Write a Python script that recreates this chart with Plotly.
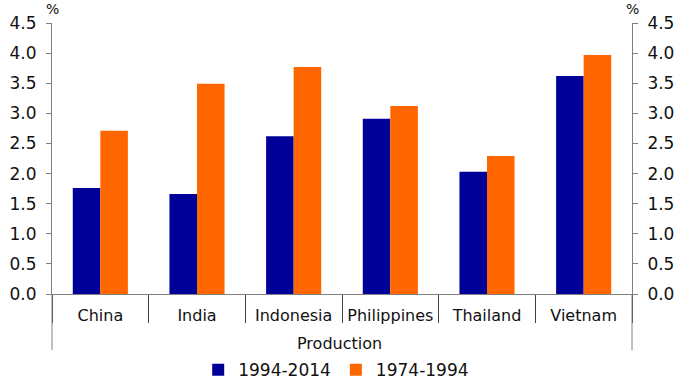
import plotly.graph_objects as go

categories = ["China", "India", "Indonesia", "Philippines", "Thailand", "Vietnam"]
series_1994_2014 = [1.76, 1.66, 2.62, 2.91, 2.03, 3.62]
series_1974_1994 = [2.71, 3.49, 3.77, 3.12, 2.29, 3.97]
y_ticks = [0.0, 0.5, 1.0, 1.5, 2.0, 2.5, 3.0, 3.5, 4.0, 4.5]
y_tick_labels = [f"{v:.1f}" for v in y_ticks]

FONT = "DejaVu Sans"
AXIS_COLOR = "#808080"

fig = go.Figure()
fig.add_trace(go.Bar(x=categories, y=series_1994_2014, name="1994-2014",
                     marker=dict(color="#000099", line=dict(width=0))))
fig.add_trace(go.Bar(x=categories, y=series_1974_1994, name="1974-1994",
                     marker=dict(color="#FF6600", line=dict(width=0))))
# invisible helper so the right-hand axis is drawn
fig.add_trace(go.Scatter(x=categories, y=series_1974_1994, yaxis="y2", mode="markers",
                         marker=dict(opacity=0), showlegend=False, hoverinfo="skip"))

fig.update_layout(
    width=685, height=381,
    margin=dict(l=52, r=53, t=23, b=87, autoexpand=False),
    paper_bgcolor="white", plot_bgcolor="white",
    barmode="group", bargap=0.43, bargroupgap=0,
    font=dict(family=FONT, color="#111111"),
    showlegend=True,
    legend=dict(orientation="h", x=0.49, xanchor="center", y=-0.215, yanchor="top",
                font=dict(size=17, family=FONT), tracegroupgap=0),
    xaxis=dict(type="category", showline=True, linecolor=AXIS_COLOR, linewidth=1,
               ticks="outside", tickson="boundaries", ticklen=28, tickcolor="#404040",
               tickwidth=1, ticklabelstandoff=7, automargin=False,
               tickfont=dict(size=16, family=FONT), showgrid=False, zeroline=False),
    yaxis=dict(range=[0, 4.5], tickvals=y_ticks, ticktext=y_tick_labels, automargin=False,
               showline=True, linecolor=AXIS_COLOR, linewidth=1, ticks="outside",
               ticklen=5, tickcolor=AXIS_COLOR, tickfont=dict(size=17, family=FONT),
               ticklabelstandoff=6, showgrid=False, zeroline=False),
    yaxis2=dict(range=[0, 4.5], tickvals=y_ticks, ticktext=y_tick_labels, automargin=False,
                overlaying="y", side="right",
                showline=True, linecolor=AXIS_COLOR, linewidth=1, ticks="outside",
                ticklen=5, tickcolor=AXIS_COLOR, tickfont=dict(size=17, family=FONT),
                ticklabelstandoff=6, showgrid=False, zeroline=False),
)

# extended outer frame lines below the axis
for xp in (0, 1):
    fig.add_shape(type="line", xref="paper", yref="paper", x0=xp, x1=xp, y0=0, y1=-0.207,
                  line=dict(color=AXIS_COLOR, width=1))

fig.add_annotation(text="Production", xref="paper", yref="paper", x=0.495, y=-0.14,
                   yanchor="top", showarrow=False, font=dict(size=16, family=FONT))
fig.add_annotation(text="%", xref="paper", yref="paper", x=0, xanchor="center", y=1.0,
                   yanchor="bottom", yshift=4, showarrow=False, font=dict(size=14, family=FONT))
fig.add_annotation(text="%", xref="paper", yref="paper", x=1, xanchor="center", y=1.0,
                   yanchor="bottom", yshift=4, showarrow=False, font=dict(size=14, family=FONT))

fig.write_html("out.html", config={"displayModeBar": False},
               post_script="document.body.style.margin='0';")
